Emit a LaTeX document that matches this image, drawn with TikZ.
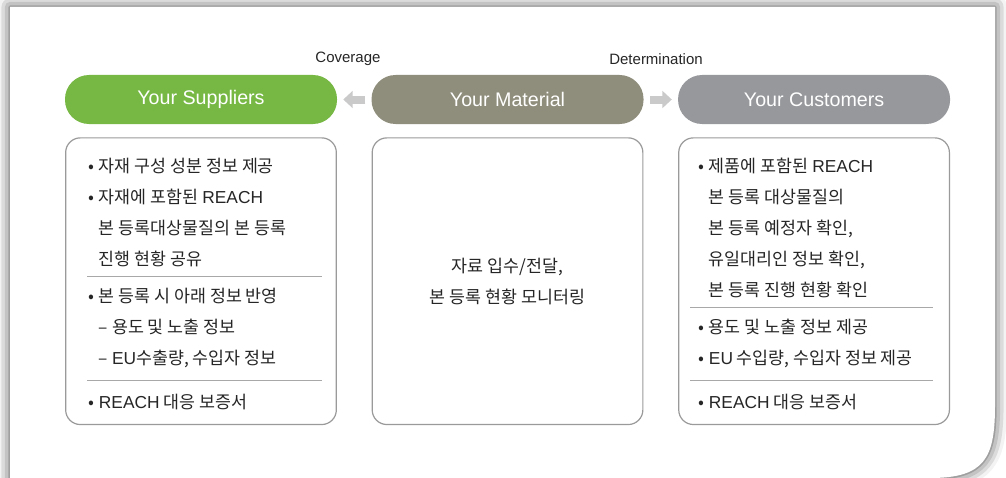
\documentclass[tikz,border=0pt]{standalone}
\usepackage{fontspec}
\setmainfont{Noto Sans CJK KR}
\newfontfamily\latin{Liberation Sans}
\usetikzlibrary{positioning,arrows.meta,calc,shadows.blur}
\definecolor{supGreen}{HTML}{76B843}
\definecolor{matKhaki}{HTML}{8F8D7B}
\definecolor{cusGray}{HTML}{97989C}
\definecolor{arrowGray}{HTML}{CACACA}
\definecolor{frameGray}{HTML}{9A9A9A}
\definecolor{sepGray}{HTML}{A8A8A8}
\definecolor{ink}{HTML}{262626}
\newcommand{\blt}{\makebox[8pt][l]{•}}
\newcommand{\ind}{\hspace*{8pt}}

\begin{document}
\begin{tikzpicture}[x=0.75pt,y=-0.75pt,node distance=25.5pt,
    pill/.style={rounded corners=18pt,minimum width=204pt,minimum height=36.75pt,
      inner sep=0pt,text=white,font=\latin\fontsize{14.75}{16}\selectfont},
    panel/.style={draw=frameGray,line width=0.9pt,rounded corners=11pt,fill=white,
      minimum width=203pt,minimum height=215pt,inner sep=0pt},
    txt/.style={anchor=west,align=left,inner sep=0pt,text=ink,
      font=\fontsize{13}{23.25}\selectfont},
    sepline/.style={draw=sepGray,line width=0.75pt},
    blockarr/.style={-{Triangle[length=7pt,width=12.5pt]},draw=arrowGray,
      line width=6pt,shorten <=4.5pt,shorten >=4.5pt},
    flowlabel/.style={text=ink,font=\latin\fontsize{11.25}{13}\selectfont}]
  \useasboundingbox (0,0) rectangle (1006,478);
  % card with soft shadow
  \fill[white,blur shadow={shadow xshift=0pt,shadow yshift=0pt,
      shadow blur radius=9pt,shadow opacity=75}]
    (10,7) -- (995,7) -- (995,405) .. controls (995,458) and (985,478) .. (930,478)
    -- (10,478) -- cycle;
  % header pills
  \node[pill,fill=supGreen] (sup) at (201,99.5) {Your Suppliers};
  \node[pill,fill=matKhaki,right=of sup] (mat) {Your Material};
  \node[pill,fill=cusGray,right=of mat] (cus) {Your Customers};
  \draw[blockarr] (mat) -- (sup);
  \draw[blockarr] (mat) -- (cus);
  \node[flowlabel] (cov) at (348,59) {Coverage};
  \node[flowlabel] (det) at (656,59) {Determination};
  % panels
  \node[panel,below=9.75pt of sup] (supbox) {};
  \node[panel,below=9.75pt of mat] (matbox) {};
  \node[panel,below=9.75pt of cus] (cusbox) {};
  % suppliers
  \node[txt] (sup1) at (88,212.5) {\blt 자재 구성 성분 정보 제공\\
    \blt 자재에 포함된 {\latin REACH}\\
    \ind 본 등록대상물질의 본 등록\\
    \ind 진행 현황 공유};
  \draw[sepline] (87,276) -- (322,276);
  \node[txt] (sup2) at (88,328) {\blt 본 등록 시 아래 정보 반영\\
    \ind – 용도 및 노출 정보\\
    \ind – {\latin EU}수출량, 수입자 정보};
  \draw[sepline] (87,380) -- (322,380);
  \node[txt] (sup3) at (88,402) {\blt {\latin REACH} 대응 보증서};
  % material
  \node[txt,anchor=center,align=center] (mat1) at (matbox) {자료 입수/전달,\\
    본 등록 현황 모니터링};
  % customers
  \node[txt] (cus1) at (698,228) {\blt 제품에 포함된 {\latin REACH}\\
    \ind 본 등록 대상물질의\\
    \ind 본 등록 예정자 확인,\\
    \ind 유일대리인 정보 확인,\\
    \ind 본 등록 진행 현황 확인};
  \draw[sepline] (690,307) -- (933,307);
  \node[txt] (cus2) at (698,343.5) {\blt 용도 및 노출 정보 제공\\
    \blt {\latin EU} 수입량, 수입자 정보 제공};
  \draw[sepline] (690,380) -- (933,380);
  \node[txt] (cus3) at (698,402) {\blt {\latin REACH} 대응 보증서};
\end{tikzpicture}
\end{document}
